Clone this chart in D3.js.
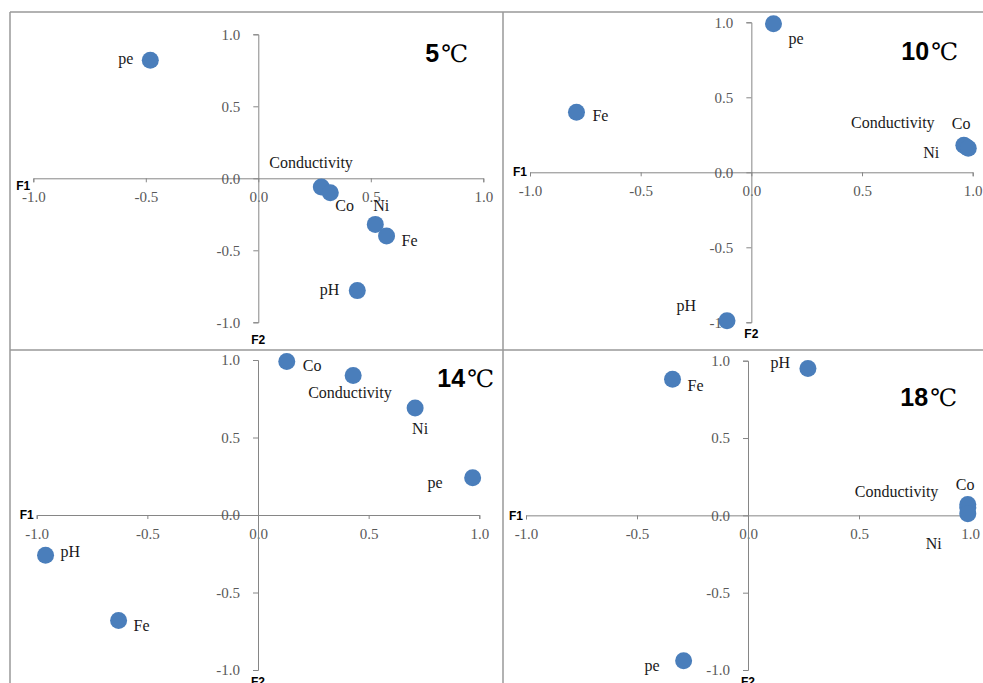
<!DOCTYPE html>
<html>
<head>
<meta charset="utf-8">
<script src="https://cdn.jsdelivr.net/npm/d3@7"></script>
<style>
  body { margin: 0; background: #fff; }
  svg { display: block; }
  .tick text { font-family: "Liberation Serif", "Times New Roman", serif; font-size: 15px; fill: #595959; }
  .tick line, .domain { stroke: #868686; stroke-width: 1; }
  .axis-name { font-family: "Liberation Sans", Arial, sans-serif; font-weight: bold; font-size: 12px; fill: #000; }
  .point-label { font-family: "Liberation Serif", "Times New Roman", serif; font-size: 16px; fill: #1a1a1a; }
  .frame { stroke: #999; stroke-width: 1.5; }
</style>
</head>
<body>
<svg width="983" height="683"></svg>
<script>
// variables (same order in every series)
const variables = ["pH", "pe", "Conductivity", "Fe", "Co", "Ni"];
const temperatures = ["5", "10", "14", "18"];
const axisTicks = [-1.0, -0.5, 0.0, 0.5, 1.0];

// F1 / F2 loadings
const f1_5C  = [0.44, -0.48, 0.28, 0.57, 0.32, 0.52];
const f2_5C  = [-0.78, 0.82, -0.06, -0.40, -0.10, -0.32];
const f1_10C = [-0.11, 0.10, 0.97, -0.79, 0.96, 0.98];
const f2_10C = [-0.99, 0.99, 0.17, 0.40, 0.18, 0.16];
const f1_14C = [-0.96, 0.97, 0.43, -0.63, 0.13, 0.71];
const f2_14C = [-0.26, 0.24, 0.90, -0.68, 0.99, 0.69];
const f1_18C = [0.27, -0.29, 0.99, -0.34, 0.99, 0.99];
const f2_18C = [0.95, -0.94, 0.05, 0.88, 0.07, 0.01];

const f1Series = [f1_5C, f1_10C, f1_14C, f1_18C];
const f2Series = [f2_5C, f2_10C, f2_14C, f2_18C];

const svg = d3.select("svg");

// panel layout: plot box, title spot, F1 label nudge, label offsets [dx, dy, anchor]
const panels = [
  { x: [33.3, 483.3], y: [322.3, 34.3], title: [468, 62], f1dy: 9, f2dy: 19,
    labels: [[-18, 1, "end"], [-17, 0, "end"], [-52, -23, "start"], [15, 6, "start"], [5, 15, "start"], [-2, -17, "start"]] },
  { x: [530, 972.7], y: [322.3, 22.3], title: [958, 60], f1dy: 1, f2dy: 13,
    labels: [[-31, -13, "end"], [15, 17, "start"], [-115, -22, "start"], [16, 5, "start"], [-12, -20, "start"], [-29, 6, "end"]] },
  { x: [36.7, 479.3], y: [670, 360], title: [494, 387], f1dy: 1, f2dy: 13,
    labels: [[15, -2, "start"], [-30, 7, "end"], [-45, 19, "start"], [15, 7, "start"], [16, 6, "start"], [-3, 22, "start"]] },
  { x: [526, 970], y: [670, 360.7], title: [957, 406], f1dy: 1, f2dy: 13,
    labels: [[-18, -4, "end"], [-24, 7, "end"], [-113, -14, "start"], [15, 8, "start"], [-12, -18, "start"], [-42, 32, "start"]] }
];

const tickFormat = d => d3.format(".1f")(d).replace("\u2212", "-");

// frame lines between the four charts
svg.append("line").attr("class", "frame").attr("x1", 10).attr("x2", 983).attr("y1", 12).attr("y2", 12);
svg.append("line").attr("class", "frame").attr("x1", 10).attr("x2", 983).attr("y1", 350).attr("y2", 350);
svg.append("line").attr("class", "frame").attr("x1", 10).attr("x2", 10).attr("y1", 12).attr("y2", 683);
svg.append("line").attr("class", "frame").attr("x1", 503).attr("x2", 503).attr("y1", 12).attr("y2", 683);

panels.forEach((p, i) => {
  const xScale = d3.scaleLinear().domain([-1, 1]).range(p.x);
  const yScale = d3.scaleLinear().domain([-1, 1]).range(p.y);
  const g = svg.append("g");

  // x axis crosses at F2 = 0
  const xAxisG = g.append("g")
    .attr("transform", `translate(0,${yScale(0)})`)
    .call(d3.axisBottom(xScale).tickValues(axisTicks).tickFormat(tickFormat).tickSize(4).tickPadding(9));

  // y axis crosses at F1 = 0
  g.append("g")
    .attr("transform", `translate(${xScale(0)},0)`)
    .call(d3.axisLeft(yScale).tickValues(axisTicks).tickFormat(tickFormat).tickSize(5).tickPadding(13));

  g.append("text")
    .attr("class", "axis-name")
    .attr("x", xScale(-1) - 3)
    .attr("y", yScale(0) + p.f1dy)
    .attr("text-anchor", "end")
    .attr("dominant-baseline", "middle")
    .text("F1");

  g.append("text")
    .attr("class", "axis-name")
    .attr("x", xScale(0))
    .attr("y", yScale(-1) + p.f2dy)
    .attr("text-anchor", "middle")
    .attr("dominant-baseline", "middle")
    .text("F2");

  const rows = variables.map((v, k) => ({ name: v, f1: f1Series[i][k], f2: f2Series[i][k], off: p.labels[k] }));

  g.selectAll("circle")
    .data(rows)
    .enter()
    .append("circle")
    .attr("cx", d => xScale(d.f1))
    .attr("cy", d => yScale(d.f2))
    .attr("r", 8.5)
    .attr("fill", "#4a7ebb");

  g.selectAll(".point-label")
    .data(rows)
    .enter()
    .append("text")
    .attr("class", "point-label")
    .attr("x", d => xScale(d.f1) + d.off[0])
    .attr("y", d => yScale(d.f2) + d.off[1])
    .attr("text-anchor", d => d.off[2])
    .attr("dominant-baseline", "middle")
    .text(d => d.name);

  // temperature title
  const title = g.append("text")
    .attr("x", p.title[0])
    .attr("y", p.title[1])
    .attr("text-anchor", "end");
  title.append("tspan")
    .attr("font-family", "Liberation Sans, Arial, sans-serif")
    .attr("font-weight", "bold")
    .attr("font-size", 25)
    .text(temperatures[i]);
  title.append("tspan")
    .attr("font-family", "DejaVu Serif, Noto Sans CJK SC, serif")
    .attr("font-size", 24)
    .attr("dx", 2)
    .text("\u2103");
});
</script>
</body>
</html>
